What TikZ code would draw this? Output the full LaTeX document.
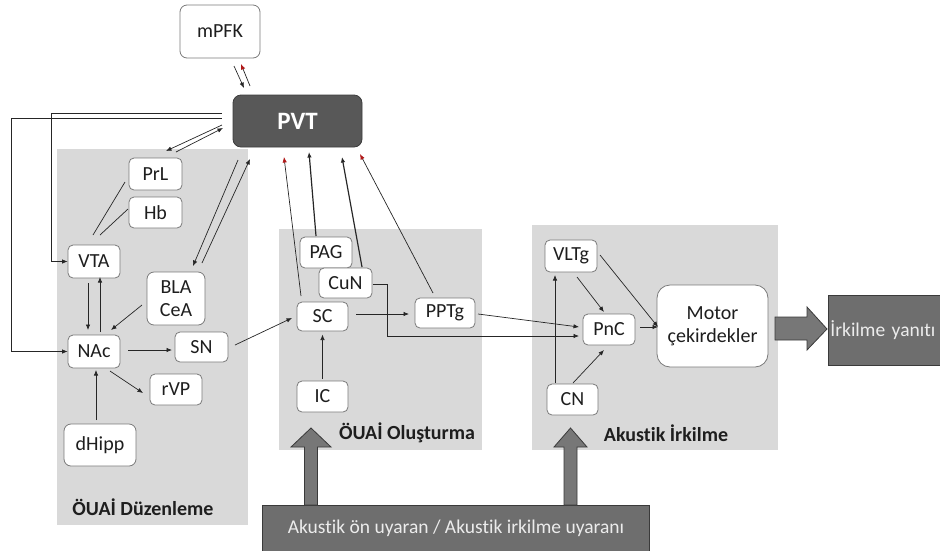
\documentclass[tikz,border=0pt]{standalone}
\usepackage{fontspec}
\setmainfont{Carlito}[Ligatures={NoCommon}]
\usetikzlibrary{arrows.meta,calc}

\definecolor{panel}{HTML}{D9D9D9}
\definecolor{boxline}{HTML}{7A7A7A}
\definecolor{txt}{HTML}{1E1E1E}
\definecolor{wire}{HTML}{262626}
\definecolor{pvtfill}{HTML}{585858}
\definecolor{pvtline}{HTML}{3C3C3C}
\definecolor{darkfill}{HTML}{6E6E6E}
\definecolor{darkline}{HTML}{3A3A3A}
\definecolor{blockfill}{HTML}{777777}
\definecolor{lighttxt}{HTML}{ECECEC}
\definecolor{tipred}{HTML}{B01818}

\tikzset{
  region/.style={fill=panel, draw=none},
  regionlabel/.style={font=\fontsize{20}{23}\selectfont\bfseries, text=txt, inner sep=0pt},
  area/.style={draw=boxline, fill=white, rounded corners=5pt, line width=0.8pt,
    font=\fontsize{20}{23}\selectfont, text=txt, inner sep=0pt, align=center},
  hub/.style={draw=pvtline, fill=pvtfill, rounded corners=8pt, line width=0.8pt,
    font=\fontsize{25}{27}\selectfont\bfseries, text=white, inner sep=0pt},
  darkbox/.style={draw=darkline, fill=darkfill, line width=0.8pt, inner sep=0pt},
  wireline/.style={draw=wire, line width=0.7pt},
  arr/.style={wireline, -{Latex[length=5.5pt,width=4.5pt]}},
  redarr/.style={wireline, -{Latex[length=5.5pt,width=4.5pt,color=tipred]}},
  thickarr/.style={arr, line width=1.2pt},
  block/.style={fill=blockfill, draw=darkline, line width=0.8pt},
}

\begin{document}
\begin{tikzpicture}[x=1pt,y=-1pt]
\useasboundingbox (0,0) rectangle (940,550);

% grey panels
\fill[region] (57,149) rectangle (248,525);
\fill[region] (279,229) rectangle (482,450);
\fill[region] (532,225) rectangle (778,450);

\node[regionlabel] (labA) at (143,507) {ÖUAİ Düzenleme};
\node[regionlabel] (labB) at (407,433) {ÖUAİ Oluşturma};
\node[regionlabel] (labC) at (666,433) {Akustik İrkilme};

% central hub and cortex
\node[area, minimum width=80, minimum height=53, rounded corners=7pt] (mPFK) at (220,31.5) {mPFK};
\node[hub, minimum width=129, minimum height=52] (PVT) at (297.5,121) {PVT};

% regulation circuit
\node[area, minimum width=53, minimum height=32] (PrL) at (155.5,174) {PrL};
\node[area, minimum width=53, minimum height=31] (Hb) at (155.5,212.5) {Hb};
\node[area, minimum width=52, minimum height=33] (VTA) at (94,261.5) {VTA};
\node[area, minimum width=58, minimum height=53, rounded corners=7pt] (BLA) at (176,298.5) {BLA\\CeA};
\node[area, minimum width=52, minimum height=33] (NAc) at (94,351.5) {NAc};
\node[area, minimum width=53, minimum height=30] (SN) at (201.5,347) {SN};
\node[area, minimum width=52, minimum height=31] (rVP) at (176,389.5) {rVP};
\node[area, minimum width=72, minimum height=42, rounded corners=7pt] (dHipp) at (100,445) {dHipp};

% generation circuit
\node[area, minimum width=52, minimum height=31] (PAG) at (326,252.5) {PAG};
\node[area, minimum width=53, minimum height=30] (CuN) at (345.5,283) {CuN};
\node[area, minimum width=51, minimum height=29] (SC) at (322.5,316.5) {SC};
\node[area, minimum width=60, minimum height=30] (PPTg) at (445,313) {PPTg};
\node[area, minimum width=51, minimum height=31] (IC) at (322.5,396.5) {IC};

% startle circuit
\node[area, minimum width=52, minimum height=32] (VLTg) at (571,256) {VLTg};
\node[area, minimum width=52, minimum height=31] (PnC) at (609,329.5) {PnC};
\node[area, minimum width=51, minimum height=31] (CN) at (572.5,399.5) {CN};
\node[area, minimum width=111, minimum height=82, rounded corners=13pt] (Motor) at (712.5,326) {Motor\\çekirdekler};

% output and stimulus boxes
\node[darkbox, anchor=west, minimum height=70, inner xsep=2pt, text width=122, align=left,
  font=\fontsize{19.5}{22}\selectfont, text=lighttxt] (resp) at (828,330) {İrkilme yanıtı};
\node[darkbox, anchor=north west, minimum width=387, minimum height=52] (stim) at (262,505) {};
\node[font=\fontsize{19.5}{21}\selectfont, text=lighttxt, inner sep=0pt] (stimtext) at (456,528)
  {Akustik ön uyaran / Akustik irkilme uyaranı};

% block arrows
\path[block] (304.5,505) -- (304.5,447) -- (291,447) -- (311,428) -- (331,447) -- (317.5,447) -- (317.5,505) -- cycle;
\path[block] (564,505) -- (564,447) -- (554,447) -- (570.5,428) -- (587,447) -- (577,447) -- (577,505) -- cycle;
\path[block] (775,317) -- (807,317) -- (807,307) -- (827,329) -- (807,350) -- (807,340) -- (775,340) -- cycle;

% mPFK <-> PVT
\draw[arr] ($(mPFK.center)+(14,34.5)$) -- ($(PVT.center)+(-53.5,-33)$);
\draw[redarr] ($(PVT.center)+(-47.5,-35)$) -- ($(mPFK.center)+(21,32.5)$);

% PVT feedback to VTA and NAc
\draw[arr] ($(PVT.west)+(-11,-8)$) -| ($(VTA.west)+(-16,0)$) -- (VTA.west);
\draw[arr] ($(PVT.west)+(-11,-3)$) -| ($(NAc.west)+(-56,0)$) -- (NAc.west);

% PVT <-> PrL, PVT <-> BLA/CeA
\draw[arr] ($(PVT.center)+(-75.5,4)$) -- ($(PrL.center)+(10.5,-23)$);
\draw[arr] ($(PrL.center)+(20.5,-22)$) -- ($(PVT.center)+(-74.5,7)$);
\draw[arr] ($(PVT.center)+(-59.5,39)$) -- ($(BLA.center)+(17,-32.5)$);
\draw[arr] ($(BLA.center)+(26,-35.5)$) -- ($(PVT.center)+(-47.5,38)$);

% PrL / Hb to VTA
\draw[wireline] ($(PrL.center)+(-30.5,8)$) -- ($(VTA.center)+(-1,-26.5)$);
\draw[wireline] ($(Hb.center)+(-27.5,-3.5)$) -- ($(VTA.center)+(6,-26.5)$);

% regulation circuit links
\draw[arr] ($(VTA.center)+(-6,21.5)$) -- ($(NAc.center)+(-6,-21.5)$);
\draw[arr] ($(NAc.center)+(6,-19.5)$) -- ($(VTA.center)+(6,15.5)$);
\draw[arr] ($(BLA.center)+(-34,6.5)$) -- ($(NAc.center)+(17,-21.5)$);
\draw[arr] ($(NAc.center)+(34,-1.5)$) -- ($(SN.center)+(-29.5,3)$);
\draw[arr] ($(NAc.center)+(16,19.5)$) -- ($(rVP.center)+(-33,3.5)$);
\draw[arr] ($(dHipp.center)+(-4,-25)$) -- ($(NAc.center)+(2,18.5)$);
\draw[arr] ($(SN.center)+(33.5,-2)$) -- ($(SC.center)+(-30.5,1.5)$);

% generation circuit to PVT
\draw[redarr] ($(SC.center)+(-21.5,-20.5)$) -- ($(PVT.center)+(-13.5,36)$);
\draw[thickarr] ($(PAG.center)+(-10,-16.5)$) -- ($(PVT.center)+(11.5,31)$);
\draw[thickarr] ($(CuN.center)+(16.5,-16)$) -- ($(PVT.center)+(44.5,36)$);
\draw[redarr] ($(PPTg.center)+(-12,-20)$) -- ($(PVT.center)+(62.5,33)$);

% generation circuit links
\draw[arr] ($(IC.center)+(0,-18)$) -- ($(SC.center)+(0,18)$);
\draw[arr] ($(SC.center)+(33.5,-2.5)$) -- ($(PPTg.center)+(-36,1)$);
\draw[arr] ($(CuN.center)+(27.5,1)$) -- ++(14,0) |- ($(PnC.center)+(-30,6.5)$);
\draw[arr] ($(PPTg.center)+(33,1)$) -- ($(PnC.center)+(-30,-2.5)$);

% startle circuit links
\draw[arr] ($(VLTg.center)+(6,21)$) -- ($(PnC.center)+(-5,-17.5)$);
\draw[arr] ($(VLTg.center)+(29,-1)$) -- ($(Motor.center)+(-54.5,1)$);
\draw[arr] ($(PnC.center)+(31,-2.5)$) -- ($(Motor.center)+(-54.5,1)$);
\draw[arr] ($(CN.center)+(-17.5,-16.5)$) -- ($(VLTg.center)+(-16,19)$);
\draw[arr] ($(CN.center)+(0.5,-16.5)$) -- ($(PnC.center)+(-5,20.5)$);
\end{tikzpicture}
\end{document}
